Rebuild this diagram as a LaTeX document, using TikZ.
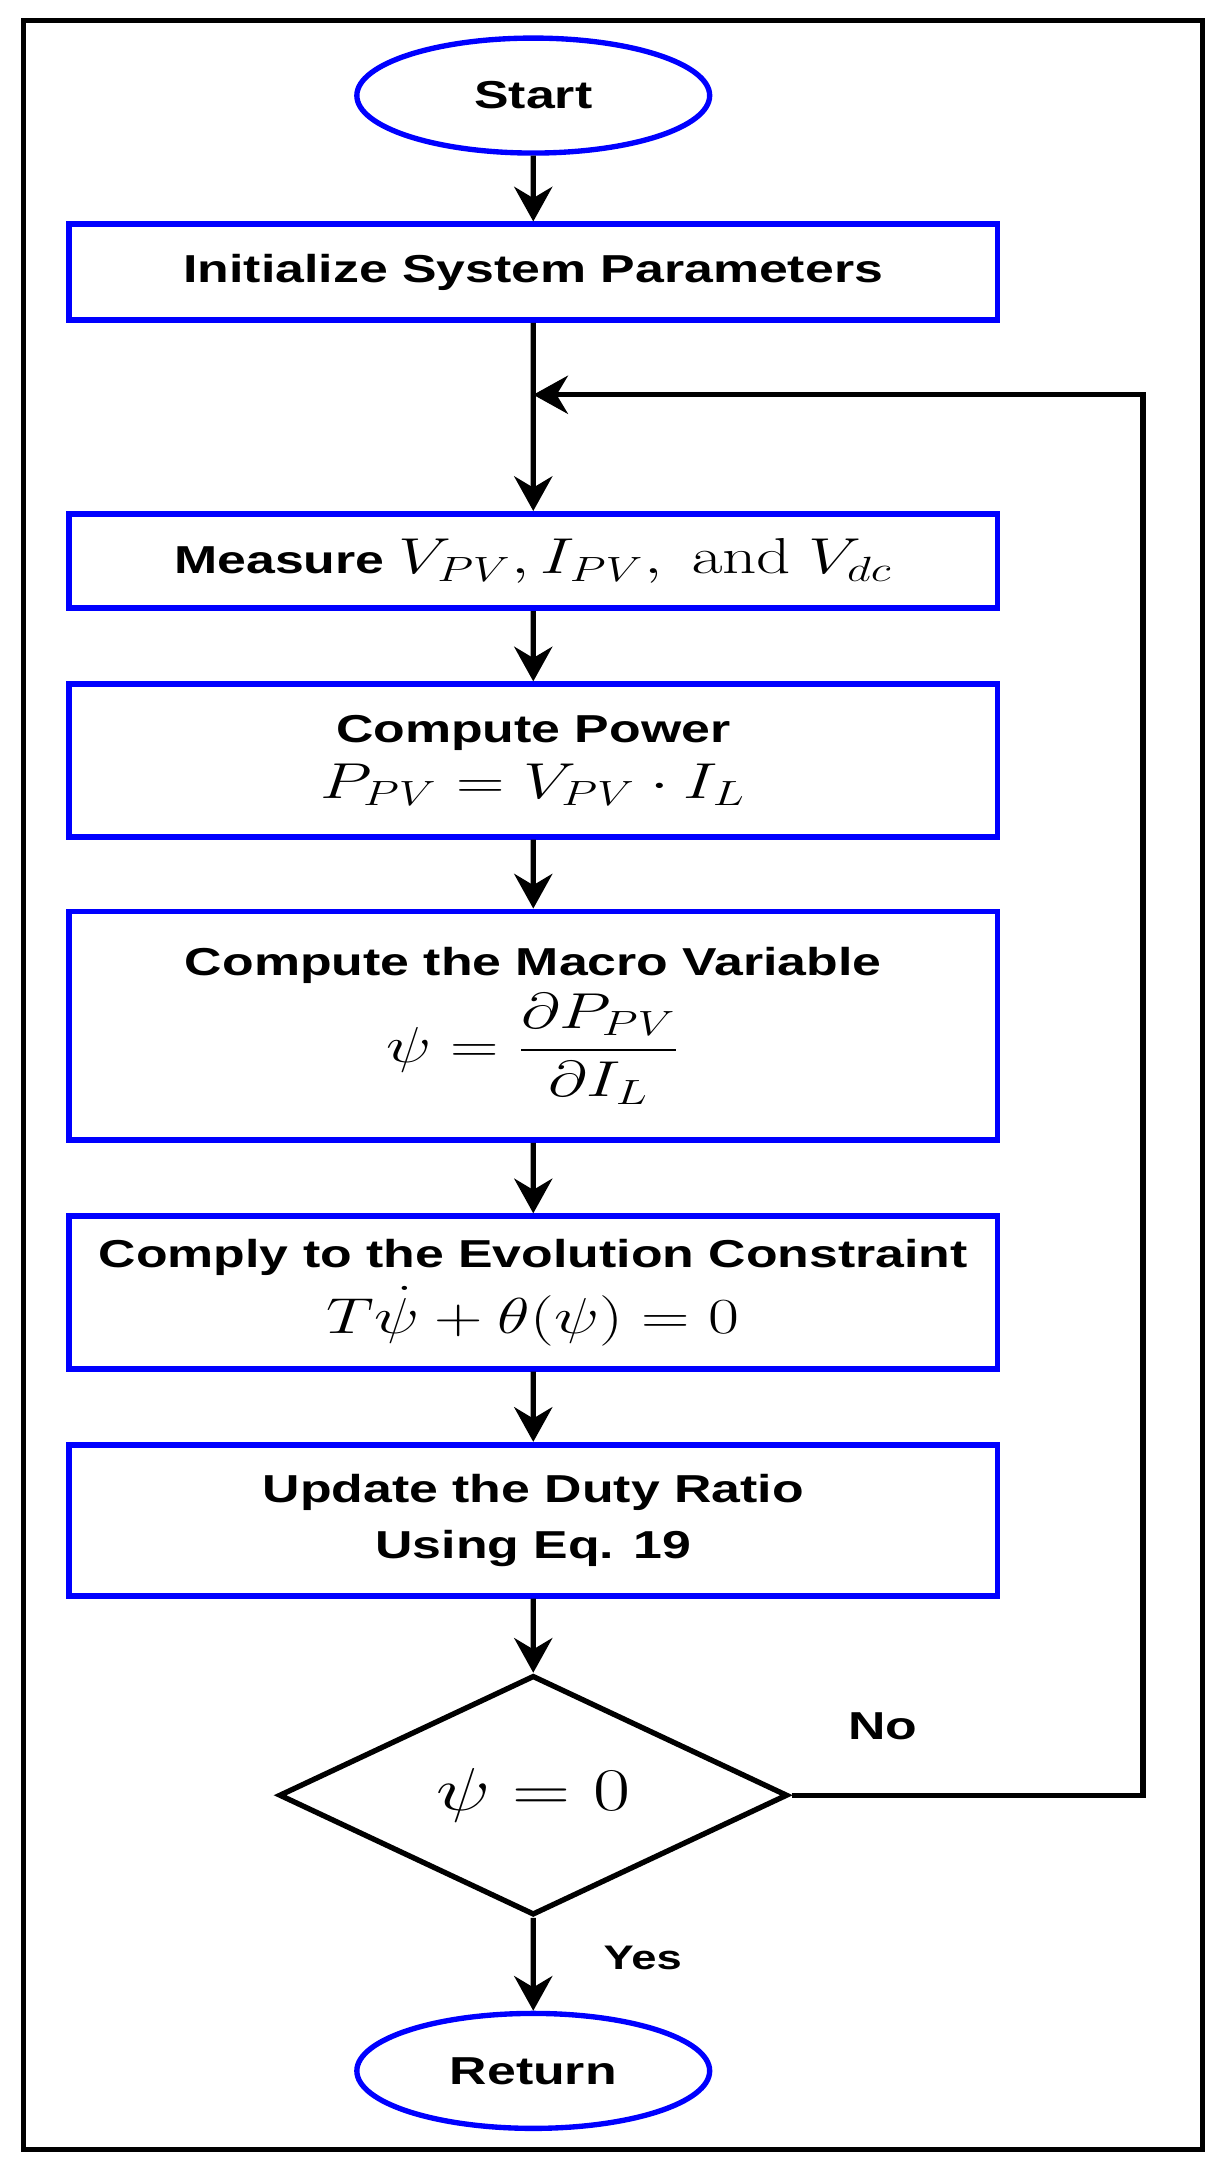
\documentclass[tikz,border=0pt]{standalone}
\usepackage{amsmath}
\usepackage[no-math]{fontspec}
\setmainfont{Liberation Sans}
\usetikzlibrary{shapes.geometric,arrows.meta}
\newcommand{\mth}[1]{{\fontsize{20}{23}\selectfont$#1$}}

\begin{document}
\begin{tikzpicture}[xscale=1.33,
  every node/.append style={transform shape},
  font=\bfseries\fontsize{16}{23}\selectfont,
  stepbox/.style={draw=blue, line width=2.4pt, minimum width=10.08cm, align=center, inner sep=0pt},
  term/.style={ellipse, draw=blue, line width=2.2pt, minimum width=3.83cm, minimum height=1.66cm, inner sep=0pt},
  decide/.style={diamond, draw, line width=2.2pt, minimum width=5.53cm, minimum height=3.46cm, inner sep=0pt},
  flow/.style={line width=2.2pt, -{Stealth[length=0.5cm,width=0.55cm]}}]
\useasboundingbox (-5.789,0) rectangle (7.519,-31.36);
\draw [line width=2pt] (-5.534,-0.30) rectangle (7.263,-31.04);
\node [term] (start) at (0,-1.38) {Start};
\node [stepbox, minimum height=1.38cm] (init) at (0,-3.93) {Initialize System Parameters};
\node [stepbox, minimum height=1.36cm] (measure) at (0,-8.10) {Measure \mth{V_{PV}, I_{PV},\ \mathrm{and}\ V_{dc}}};
\node [stepbox, minimum height=2.2cm] (power) at (0,-10.98) {Compute Power\\ \mth{P_{PV}=V_{PV}\cdot I_L}};
\node [stepbox, minimum height=3.3cm] (macro) at (0,-14.81) {Compute the Macro Variable\\[3pt] \mth{\psi=\dfrac{\partial P_{PV}}{\partial I_L}}};
\node [stepbox, minimum height=2.2cm] (comply) at (0,-18.66) {Comply to the Evolution Constraint\\[4pt] \mth{T\dot{\psi}+\theta(\psi)=0}};
\node [stepbox, minimum height=2.18cm] (update) at (0,-21.95) {Update the Duty Ratio\\ Using Eq. 19};
\node [decide] (check) at (0,-25.92) {\fontsize{25}{28}\selectfont$\psi=0$};
\node [term] (return) at (0,-29.90) {Return};
\node (no) at (3.797,-24.93) {No};
\node [font=\bfseries\fontsize{14}{16}\selectfont] (yes) at (1.188,-28.27) {Yes};
\coordinate (join) at (0,-5.70);
\coordinate (fb) at (6.617,-5.70);
\draw [flow] (start) -- (init);
\draw [flow] (init) -- (measure);
\draw [flow] (measure) -- (power);
\draw [flow] (power) -- (macro);
\draw [flow] (macro) -- (comply);
\draw [flow] (comply) -- (update);
\draw [flow] (update) -- (check);
\draw [flow] (check) -- (return);
\draw [flow] (check.east) -| (fb) -- (join);
\end{tikzpicture}
\end{document}
